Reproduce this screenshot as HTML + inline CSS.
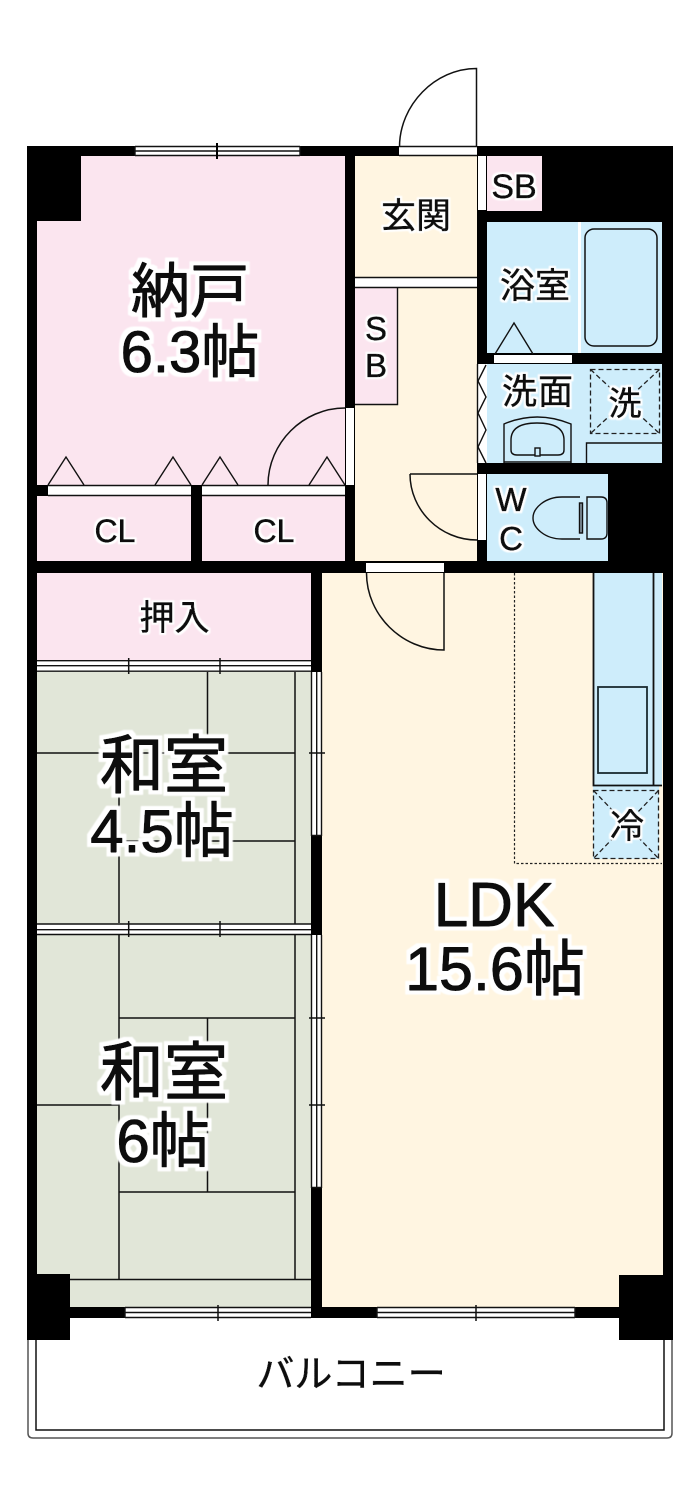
<!DOCTYPE html>
<html><head><meta charset="utf-8"><style>
html,body{margin:0;padding:0;background:#fff}
svg{display:block}
text{font-family:"Liberation Sans","Noto Sans CJK JP",sans-serif;fill:#111;text-anchor:middle;stroke:#111;stroke-linejoin:round}
.b{font-size:60px;stroke-width:1.1px;filter:url(#hb)}
.s{font-size:35px;stroke-width:.6px;filter:url(#hs)}
.l{stroke:#111;stroke-width:1.5;fill:none}
.t{stroke:#111;stroke-width:1.4;fill:none}
.d{stroke:#222;stroke-width:1.3;fill:none;stroke-dasharray:5 3}
</style></head><body>
<svg width="700" height="1502" viewBox="0 0 700 1502" xmlns="http://www.w3.org/2000/svg">
<defs>
<filter id="hb" x="-20%" y="-20%" width="140%" height="140%">
<feMorphology in="SourceAlpha" operator="dilate" radius="4" result="m"/>
<feGaussianBlur in="m" stdDeviation="0.6" result="g"/>
<feFlood flood-color="#fff"/><feComposite in2="g" operator="in" result="w"/>
<feMerge><feMergeNode in="w"/><feMergeNode in="SourceGraphic"/></feMerge>
</filter>
<filter id="hs" x="-20%" y="-20%" width="140%" height="140%">
<feMorphology in="SourceAlpha" operator="dilate" radius="2.200" result="m"/>
<feGaussianBlur in="m" stdDeviation="0.5" result="g"/>
<feFlood flood-color="#fff"/><feComposite in2="g" operator="in" result="w"/>
<feMerge><feMergeNode in="w"/><feMergeNode in="SourceGraphic"/></feMerge>
</filter>
</defs>
<rect width="700" height="1502" fill="#fff"/>
<!-- balcony -->
<path d="M28 1340V1433q0 5 5 5H667q5 0 5-5V1340" fill="none" stroke="#555" stroke-width="1.5"/>
<path d="M36 1340V1430H664V1340" class="l"/>
<!-- outer wall mass -->
<rect x="27" y="146" width="646" height="1172" fill="#000"/>
<!-- pink -->
<path d="M81 156H345V485H37V221H81Z" fill="#fbe5ef"/>
<rect x="37" y="496" width="154" height="65" fill="#fbe5ef"/>
<rect x="202" y="496" width="143" height="65" fill="#fbe5ef"/>
<rect x="37" y="573" width="274" height="87" fill="#fbe5ef"/>
<rect x="487" y="156" width="55" height="55" fill="#fbe5ef"/>
<!-- entry + hall -->
<rect x="355" y="156" width="122" height="121" fill="#fff5e1"/>
<rect x="355" y="288" width="122" height="273" fill="#fff5e1"/>
<rect x="355" y="288" width="43" height="116" fill="#fbe5ef"/>
<path d="M397.500 288V404.500H355" class="t"/>
<rect x="355" y="278" width="122" height="10" fill="#fff"/>
<path d="M355 277.500H477M355 287.500H477" class="t"/>
<!-- LDK -->
<path d="M322 573H663V1307H322Z" fill="#fff5e1"/>
<!-- wet -->
<rect x="487" y="222" width="175" height="131" fill="#ceedfb"/>
<path d="M579.500 222V353" stroke="#fff" stroke-width="3"/>
<rect x="585" y="229" width="72" height="117" rx="9" class="l"/>
<rect x="487" y="364" width="175" height="99" fill="#ceedfb"/>
<rect x="487" y="474" width="121" height="87" fill="#ceedfb"/>
<rect x="593" y="573" width="69" height="213" fill="#ceedfb"/>
<rect x="593" y="786" width="66" height="73" fill="#ceedfb"/>
<!-- tatami -->
<rect x="37" y="672" width="274" height="252" fill="#e1e6d8"/>
<rect x="37" y="934" width="274" height="340" fill="#e1e6d8"/>
<rect x="70" y="1274" width="241" height="33" fill="#e1e6d8"/>
<g class="l">
<path d="M295 672V1279M37 753H295M207.500 672V753M119 753V923M119 841H295M119 935V1279M119 1018H295M207.500 1018V1192M37 1105H119M119 1192H295M70 1279.500H311"/>
</g>
<!-- columns -->
<rect x="27" y="1274" width="43" height="66" fill="#000"/>
<rect x="619" y="1275" width="54" height="65" fill="#000"/>
<!-- sliding horizontal -->
<g>
<rect x="37" y="661" width="274" height="11" fill="#fff"/>
<path d="M37 660.700H311M37 665.700H311M37 671.200H311" class="t"/>
<path d="M128.700 658V674M220 658V674" class="l"/>
<rect x="37" y="924" width="274" height="11" fill="#fff"/>
<path d="M37 924H311M37 929.700H311M37 934.500H311" class="t"/>
<path d="M128.700 921V937M220 921V937" class="l"/>
</g>
<!-- sliding vertical -->
<g>
<rect x="312" y="672" width="10" height="164" fill="#fff"/>
<path d="M311.500 672V836M316.700 672V836M321.500 672V836M311.500 835.500H321.500M309 753H325" class="t"/>
<rect x="312" y="935" width="10" height="253" fill="#fff"/>
<path d="M311.500 935V1188M316.700 935V1188M321.500 935V1188M311.500 1187.500H321.500M309 1018H325M309 1105H325" class="t"/>
</g>
<!-- top window -->
<rect x="135" y="146" width="165" height="10" fill="#fff"/>
<path d="M135 146.500H300M135 151H300M135 155.500H300M135 146V156M300 146V156" class="t"/>
<path d="M217 143V159" stroke="#000" stroke-width="2"/>
<!-- bottom windows -->
<rect x="125" y="1307" width="186" height="11" fill="#fff"/>
<path d="M125 1307.500H311M125 1312.500H311M125 1317.500H311M125 1307V1318" class="t"/>
<path d="M218 1305V1321" class="l"/>
<rect x="377" y="1307" width="198" height="11" fill="#fff"/>
<path d="M377 1307.500H575M377 1312.500H575M377 1317.500H575M377 1307V1318M575 1307V1318" class="t"/>
<path d="M476 1305V1321" class="l"/>
<!-- white door strips -->
<rect x="399" y="147" width="78" height="9" fill="#fff"/>
<path d="M399 146.500H477M399 155.500H477" class="t"/>
<rect x="478" y="156" width="8" height="54" fill="#fff"/>
<rect x="346" y="408" width="8" height="77" fill="#fff"/>
<rect x="48" y="486" width="143" height="9" fill="#fff"/>
<path d="M48 485.500H191M48 495.500H191" class="t"/>
<rect x="202" y="486" width="143" height="9" fill="#fff"/>
<path d="M202 485.500H345M202 495.500H345" class="t"/>
<rect x="478" y="474" width="8" height="66" fill="#fff"/>
<rect x="366" y="563" width="78" height="9" fill="#fff"/>
<rect x="494" y="355" width="78" height="8" fill="#fff"/>
<!-- hatch -->
<rect x="477" y="364" width="10" height="99" fill="#fff"/>
<path d="M486 365L478 381L486 397L478 413L486 430L478 447L486 463" class="t"/>
<path d="M477.500 364V463" class="t"/>
<!-- doors -->
<g class="l">
<path d="M399.500 147C399.500 105 435 68.500 476.500 68.500V147"/>
<path d="M268 485C268 443 303 408 345 408"/>
<path d="M410 474H477M410 474C410 510 440 540 477 540"/>
<path d="M444 573V650C402 650 366.500 615 366.500 573"/>
</g>
<!-- triangles -->
<g class="t">
<path d="M48 485L66 457L84 485M155 485L173 457L191 485M202 485L220 457L238 485M309 485L327 457L345 485"/>
<path d="M495 354L514 323L533 354"/>
</g>
<!-- sink -->
<g class="t">
<path d="M504 463V424Q537 410 571 424V463M504 462H571"/>
<path d="M511 440C511 427 522 423 537 423S564 427 564 440V450Q564 455 558 455H517Q511 455 511 450Z"/>
<rect x="535" y="448" width="5" height="8" fill="#ceedfb"/>
<path d="M586.500 463V443H662"/>
</g>
<!-- wash + fridge dashed -->
<g>
<rect x="590.500" y="369.500" width="69" height="64" class="d"/>
<path d="M590.500 369.500L659.500 433.500M659.500 369.500L590.500 433.500" class="d" stroke-dasharray="4 3"/>
<rect x="593.500" y="790.500" width="65" height="68" class="d"/>
<path d="M593.500 790.500L658.500 858.500M658.500 790.500L593.500 858.500" class="d" stroke-dasharray="4 3"/>
</g>
<!-- toilet -->
<g class="t">
<path d="M580 497H562C545 497 533 508 533 518S545 539 562 539H580"/>
<path d="M587 497H601Q607 497 607 503V533Q607 539 601 539H587Z"/>
<rect x="579.500" y="503" width="3" height="30" fill="#8a9aa5"/>
</g>
<!-- kitchen -->
<path d="M593.500 573V785.500H662M653.500 573V785.500" stroke="#111" stroke-width="1.800" fill="none"/>
<rect x="598" y="687" width="49" height="86" fill="none" stroke="#1a2a30" stroke-width="1.800"/>
<path d="M514.500 573V863.500H662" fill="none" stroke="#222" stroke-width="1.2" stroke-dasharray="2.500 2"/>
<!-- labels -->
<text x="190" y="312" class="b" style="font-size:59px">納戸</text>
<text x="190" y="372" class="b" style="font-size:58px">6.3帖</text>
<text x="164" y="788" class="b" style="font-size:64px">和室</text>
<text x="162" y="852" class="b" style="font-size:60px">4.5帖</text>
<text x="164" y="1095" class="b" style="font-size:64px">和室</text>
<text x="163" y="1162" class="b" style="font-size:60px">6帖</text>
<text x="494" y="926" class="b" style="font-size:62px">LDK</text>
<text x="495" y="990" class="b" style="font-size:61px">15.6帖</text>
<text x="416" y="228" class="s">玄関</text>
<text x="535" y="298" class="s">浴室</text>
<text x="538" y="404" class="s" letter-spacing="1">洗面</text>
<text x="625" y="415" class="s" style="font-size:33px">洗</text>
<text x="627" y="838" class="s" style="font-size:34px">冷</text>
<text x="514" y="198" class="s" style="font-size:34px">SB</text>
<text x="376" y="340" class="s" style="font-size:33px">S</text>
<text x="376" y="377" class="s" style="font-size:33px">B</text>
<text x="511" y="511" class="s" style="font-size:33px">W</text>
<text x="511" y="550" class="s" style="font-size:33px">C</text>
<text x="115" y="542" class="s" style="font-size:32px">CL</text>
<text x="274" y="542" class="s" style="font-size:32px">CL</text>
<text x="174.500" y="630" class="s">押入</text>
<text x="351" y="1387" class="s" style="font-size:38px">バルコニー</text>
</svg>
</body></html>
